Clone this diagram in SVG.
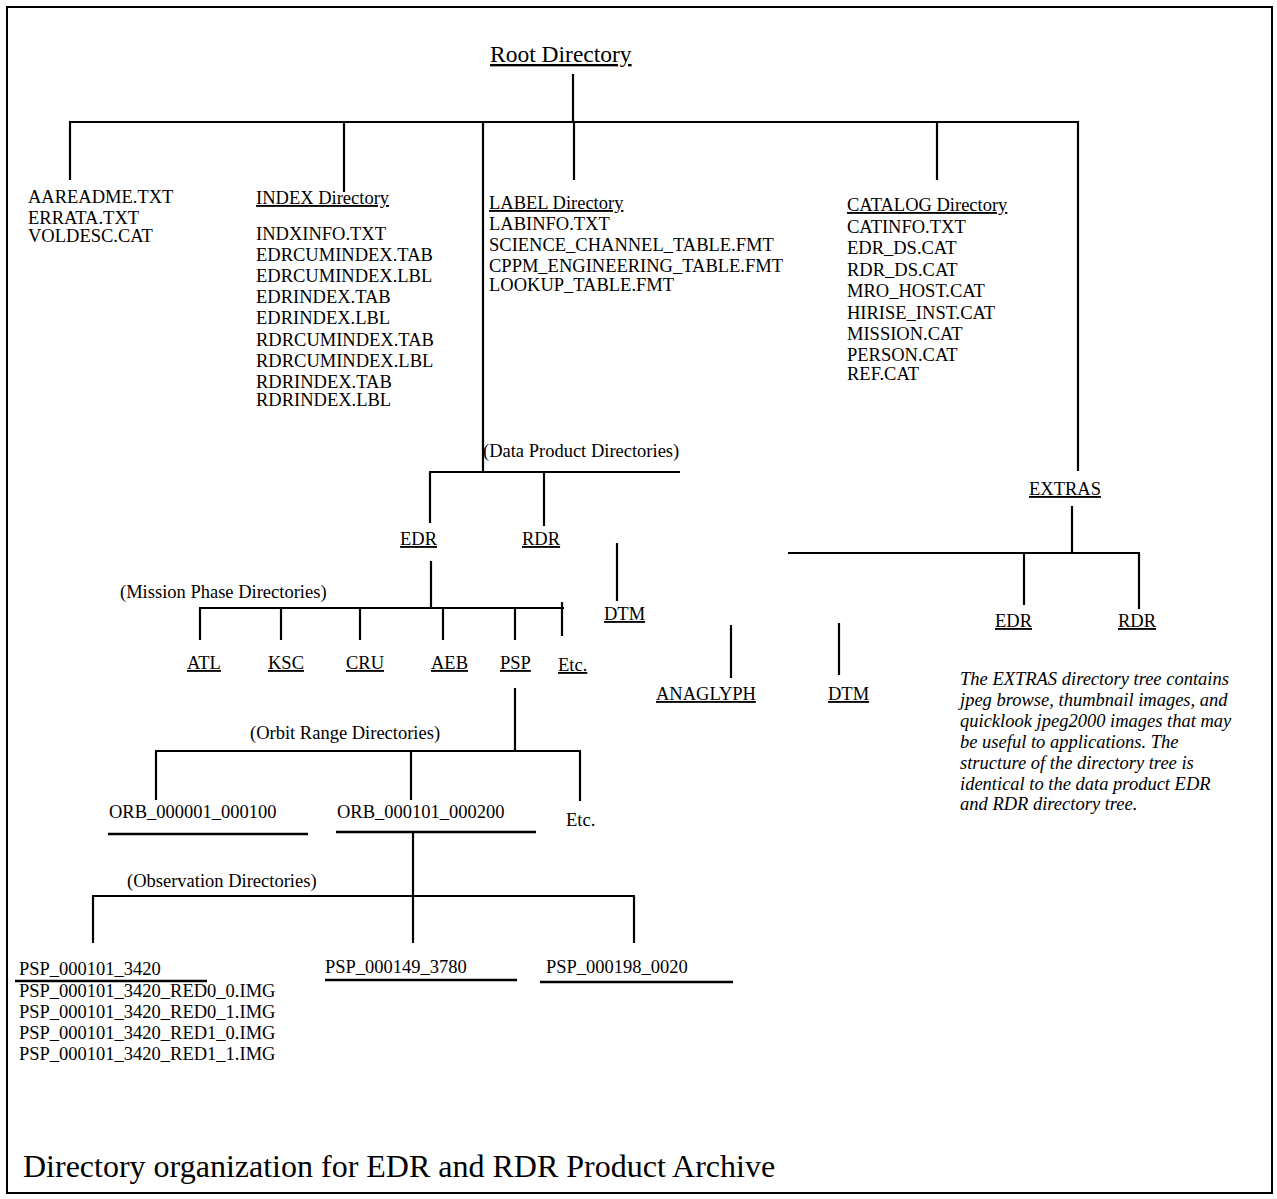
<svg xmlns="http://www.w3.org/2000/svg" width="1277" height="1199" viewBox="0 0 1277 1199">
<style>
text{font-family:"Liberation Serif","Times New Roman",serif;font-size:18.5px;fill:#000}
.u{text-decoration:underline}
.root{font-size:23.5px}
.title{font-size:32px}
.it{font-style:italic}
#connectors line{stroke:#000;stroke-width:2.2}
.rule{stroke:#000;stroke-width:2.4}
</style>
<rect x="7" y="7" width="1265" height="1186" fill="#fff" stroke="#000" stroke-width="2"/>
<g id="connectors">
<line x1="573" y1="74" x2="573" y2="122"/>
<line x1="69" y1="122" x2="1079" y2="122"/>
<line x1="70" y1="122" x2="70" y2="180"/>
<line x1="344" y1="122" x2="344" y2="192"/>
<line x1="483" y1="122" x2="483" y2="473"/>
<line x1="574" y1="122" x2="574" y2="180"/>
<line x1="937" y1="122" x2="937" y2="180"/>
<line x1="1078" y1="122" x2="1078" y2="471"/>
<line x1="429" y1="472" x2="680" y2="472"/>
<line x1="430" y1="472" x2="430" y2="523"/>
<line x1="544" y1="471" x2="544" y2="526"/>
<line x1="617" y1="543" x2="617" y2="601"/>
<line x1="431" y1="561" x2="431" y2="608"/>
<line x1="199" y1="608" x2="564" y2="608"/>
<line x1="200" y1="608" x2="200" y2="640"/>
<line x1="281" y1="608" x2="281" y2="640"/>
<line x1="360" y1="608" x2="360" y2="640"/>
<line x1="443" y1="608" x2="443" y2="640"/>
<line x1="515" y1="608" x2="515" y2="640"/>
<line x1="562" y1="602" x2="562" y2="636"/>
<line x1="515" y1="688" x2="515" y2="752"/>
<line x1="155" y1="751" x2="581" y2="751"/>
<line x1="156" y1="751" x2="156" y2="800"/>
<line x1="411" y1="751" x2="411" y2="800"/>
<line x1="580" y1="751" x2="580" y2="801"/>
<line x1="413" y1="832" x2="413" y2="943"/>
<line x1="92" y1="896" x2="635" y2="896"/>
<line x1="93" y1="896" x2="93" y2="943"/>
<line x1="634" y1="896" x2="634" y2="943"/>
<line x1="1072" y1="506" x2="1072" y2="553"/>
<line x1="788" y1="553" x2="1140" y2="553"/>
<line x1="1024" y1="553" x2="1024" y2="605"/>
<line x1="1139" y1="553" x2="1139" y2="609"/>
<line x1="731" y1="625" x2="731" y2="678"/>
<line x1="839" y1="623" x2="839" y2="675"/>
</g>
<g id="root"><text class="root u" x="490" y="62">Root Directory</text></g>
<g id="rootfiles">
<text x="28" y="203">AAREADME.TXT</text>
<text x="28" y="224">ERRATA.TXT</text>
<text x="28" y="242">VOLDESC.CAT</text>
</g>
<g id="index">
<text class="u" x="256" y="204">INDEX Directory</text>
<text x="256" y="240">INDXINFO.TXT</text>
<text x="256" y="261">EDRCUMINDEX.TAB</text>
<text x="256" y="282">EDRCUMINDEX.LBL</text>
<text x="256" y="303">EDRINDEX.TAB</text>
<text x="256" y="324">EDRINDEX.LBL</text>
<text x="256" y="346">RDRCUMINDEX.TAB</text>
<text x="256" y="367">RDRCUMINDEX.LBL</text>
<text x="256" y="388">RDRINDEX.TAB</text>
<text x="256" y="406">RDRINDEX.LBL</text>
</g>
<g id="label">
<text class="u" x="489" y="209">LABEL Directory</text>
<text x="489" y="230">LABINFO.TXT</text>
<text x="489" y="251">SCIENCE_CHANNEL_TABLE.FMT</text>
<text x="489" y="272">CPPM_ENGINEERING_TABLE.FMT</text>
<text x="489" y="291">LOOKUP_TABLE.FMT</text>
</g>
<g id="catalog">
<text class="u" x="847" y="211">CATALOG Directory</text>
<text x="847" y="233">CATINFO.TXT</text>
<text x="847" y="254">EDR_DS.CAT</text>
<text x="847" y="276">RDR_DS.CAT</text>
<text x="847" y="297">MRO_HOST.CAT</text>
<text x="847" y="319">HIRISE_INST.CAT</text>
<text x="847" y="340">MISSION.CAT</text>
<text x="847" y="361">PERSON.CAT</text>
<text x="847" y="380">REF.CAT</text>
</g>
<g id="dataproduct"><text x="483" y="457">(Data Product Directories)</text></g>
<g id="edr"><text class="u" x="400" y="545">EDR</text></g>
<g id="rdr"><text class="u" x="522" y="545">RDR</text></g>
<g id="dtm"><text class="u" x="604" y="620">DTM</text></g>
<g id="missionphase"><text x="120" y="598">(Mission Phase Directories)</text></g>
<g id="atl"><text class="u" x="187" y="669">ATL</text></g>
<g id="ksc"><text class="u" x="268" y="669">KSC</text></g>
<g id="cru"><text class="u" x="346" y="669">CRU</text></g>
<g id="aeb"><text class="u" x="431" y="669">AEB</text></g>
<g id="psp"><text class="u" x="500" y="669">PSP</text></g>
<g id="etc1"><text class="u" x="558" y="671">Etc.</text></g>
<g id="orbitrange"><text x="250" y="739">(Orbit Range Directories)</text></g>
<g id="orb1">
<text x="109" y="818">ORB_000001_000100</text>
<line class="rule" x1="108" y1="834" x2="308" y2="834"/>
</g>
<g id="orb2">
<text x="337" y="818">ORB_000101_000200</text>
<line class="rule" x1="336" y1="832" x2="536" y2="832"/>
</g>
<g id="etc2"><text x="566" y="826">Etc.</text></g>
<g id="observation"><text x="127" y="887">(Observation Directories)</text></g>
<g id="obs1">
<text x="19" y="975">PSP_000101_3420</text>
<line class="rule" x1="15" y1="981" x2="207" y2="981"/>
<text x="19" y="997">PSP_000101_3420_RED0_0.IMG</text>
<text x="19" y="1018">PSP_000101_3420_RED0_1.IMG</text>
<text x="19" y="1039">PSP_000101_3420_RED1_0.IMG</text>
<text x="19" y="1060">PSP_000101_3420_RED1_1.IMG</text>
</g>
<g id="obs2">
<text x="325" y="973">PSP_000149_3780</text>
<line class="rule" x1="325" y1="980" x2="517" y2="980"/>
</g>
<g id="obs3">
<text x="546" y="973">PSP_000198_0020</text>
<line class="rule" x1="540" y1="982" x2="733" y2="982"/>
</g>
<g id="extras"><text class="u" x="1029" y="495">EXTRAS</text></g>
<g id="extras-edr"><text class="u" x="995" y="627">EDR</text></g>
<g id="extras-rdr"><text class="u" x="1118" y="627">RDR</text></g>
<g id="anaglyph"><text class="u" x="656" y="700">ANAGLYPH</text></g>
<g id="extras-dtm"><text class="u" x="828" y="700">DTM</text></g>
<g id="note">
<text class="it" x="960" y="685">The EXTRAS directory tree contains</text>
<text class="it" x="960" y="706">jpeg browse, thumbnail images, and</text>
<text class="it" x="960" y="727">quicklook jpeg2000 images that may</text>
<text class="it" x="960" y="748">be useful to applications. The</text>
<text class="it" x="960" y="769">structure of the directory tree is</text>
<text class="it" x="960" y="790">identical to the data product EDR</text>
<text class="it" x="960" y="810">and RDR directory tree.</text>
</g>
<g id="caption"><text class="title" x="23" y="1177">Directory organization for EDR and RDR Product Archive</text></g>
</svg>
